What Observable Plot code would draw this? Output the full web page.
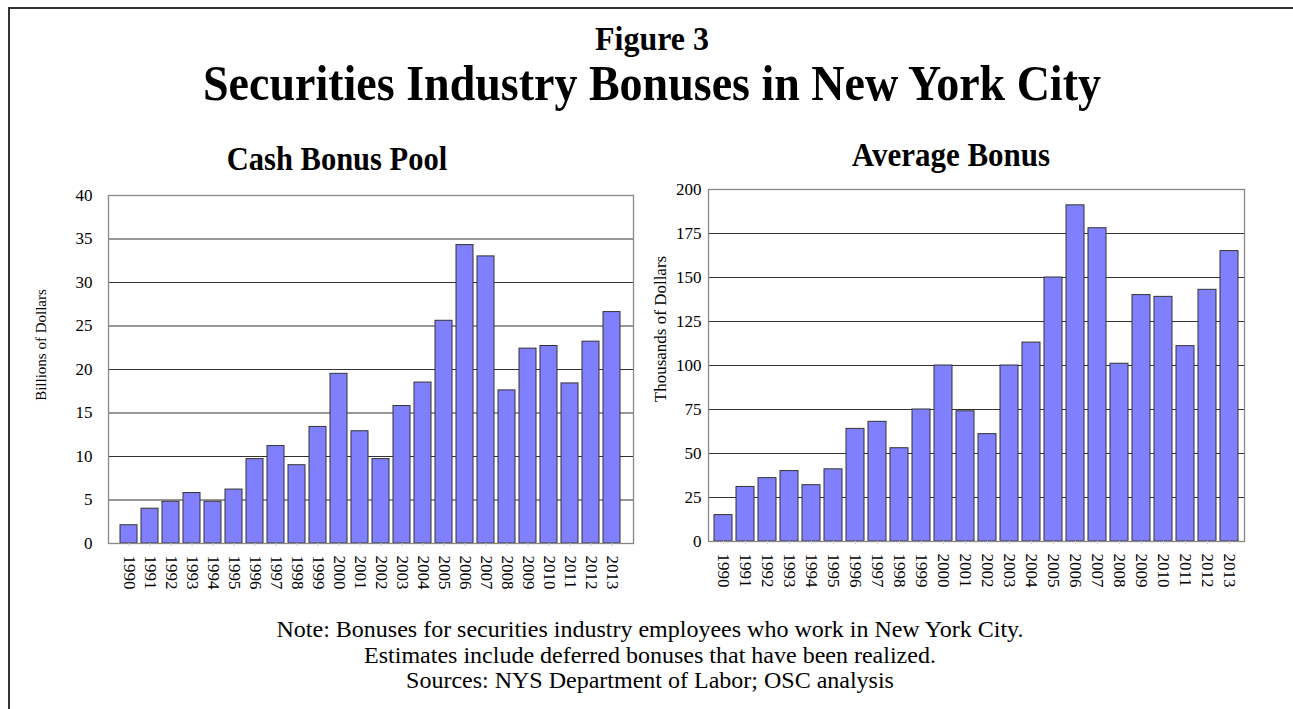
<!DOCTYPE html>
<html><head><meta charset="utf-8">
<script src="https://cdn.jsdelivr.net/npm/d3@7"></script>
<script src="https://cdn.jsdelivr.net/npm/@observablehq/plot@0.6"></script>
<style>
body{margin:0;background:#fff;font-family:"Liberation Serif","Times New Roman",serif;}
#wrap{position:relative;width:1293px;height:709px;overflow:hidden;background:#fff;}
.frame{position:absolute;left:8px;top:7px;width:1400px;height:800px;border-left:2px solid #333;border-top:2px solid #333;}
.t{position:absolute;white-space:nowrap;color:#000;text-align:center;line-height:1;transform-origin:50% 84%;}
.b{font-weight:bold;}
.yl{position:absolute;white-space:nowrap;color:#000;line-height:1;transform:translate(-50%,-50%) rotate(-90deg);}
#c1,#c2{position:absolute;}
#c1{left:20px;top:185px;}
#c2{left:640px;top:180px;}
#c1 svg text, #c2 svg text{font-family:"Liberation Serif","Times New Roman",serif !important;font-size:17px !important;fill:#000;}
</style></head>
<body>
<div id="wrap">
  <div class="frame"></div>
  <div class="t b" style="left:652px;top:23px;font-size:32px;transform:translateX(-50%) scaleY(1.06);">Figure 3</div>
  <div class="t b" style="left:652px;top:62px;font-size:46px;transform:translateX(-50%) scaleY(1.1);">Securities Industry Bonuses in New York City</div>
  <div class="t b" style="left:337px;top:145px;font-size:30.5px;transform:translateX(-50%) scaleY(1.08);">Cash Bonus Pool</div>
  <div class="t b" style="left:951px;top:140px;font-size:31px;transform:translateX(-50%) scaleY(1.08);">Average Bonus</div>
  <div id="c1"></div>
  <div id="c2"></div>
  <div class="yl" style="left:41px;top:345px;font-size:15px;">Billions of Dollars</div>
  <div class="yl" style="left:660px;top:329px;font-size:17px;">Thousands of Dollars</div>
  <div class="t" style="left:650px;top:617px;font-size:24px;line-height:25.5px;transform:translateX(-50%);">Note: Bonuses for securities industry employees who work in New York City.<br>Estimates include deferred bonuses that have been realized.<br>Sources: NYS Department of Labor; OSC analysis</div>
</div>
<script>
const years = ["1990","1991","1992","1993","1994","1995","1996","1997","1998","1999","2000","2001","2002","2003","2004","2005","2006","2007","2008","2009","2010","2011","2012","2013"];
const bonusPool = [2.1, 4.0, 4.8, 5.8, 4.8, 6.2, 9.7, 11.2, 9.0, 13.4, 19.5, 12.9, 9.7, 15.8, 18.5, 25.6, 34.3, 33.0, 17.6, 22.4, 22.7, 18.4, 23.2, 26.6];
const avgBonus = [15, 31, 36, 40, 32, 41, 64, 68, 53, 75, 100, 74, 61, 100, 113, 150, 191, 178, 101, 140, 139, 111, 143, 165];
const poolTicks = [0, 5, 10, 15, 20, 25, 30, 35, 40];
const avgTicks = [0, 25, 50, 75, 100, 125, 150, 175, 200];

const barFill = "#8080ff";
const font = "'Liberation Serif','Times New Roman',serif";

function chart(values, ticks, ymax, opts) {
  const data = years.map((y, i) => ({year: y, value: values[i]}));
  return Plot.plot({
    width: opts.width, height: opts.height,
    marginLeft: opts.ml, marginRight: opts.mr, marginTop: opts.mt, marginBottom: opts.mb,
    style: {fontFamily: font, fontSize: "17px", color: "#000", background: "transparent"},
    x: {domain: years, paddingInner: 0.18, paddingOuter: 0.09},
    y: {domain: [0, ymax]},
    marks: [
      Plot.ruleY(ticks.filter(d => d > 0 && d < ymax), {stroke: "#333", strokeWidth: 1.2}),
      Plot.barY(data, {x: "year", y: "value", fill: barFill, stroke: "#333", strokeWidth: 1}),
      Plot.frame({stroke: "#888", strokeWidth: 1.3}),
      Plot.axisY({ticks: ticks, tickSize: 0, tickPadding: opts.tp, label: null, fontSize: 17, tickFormat: d => String(d)}),
      Plot.axisX({tickSize: 3, stroke: "#ccc", tickPadding: 9, tickRotate: 90, label: null, fontSize: 17})
    ]
  });
}

document.getElementById("c1").appendChild(chart(bonusPool, poolTicks, 40,
  {width: 630, height: 410, ml: 88, mr: 17, mt: 10, mb: 52, tp: 16}));
document.getElementById("c2").appendChild(chart(avgBonus, avgTicks, 200,
  {width: 620, height: 415, ml: 68, mr: 16, mt: 9, mb: 54, tp: 7}));
</script>
</body></html>
